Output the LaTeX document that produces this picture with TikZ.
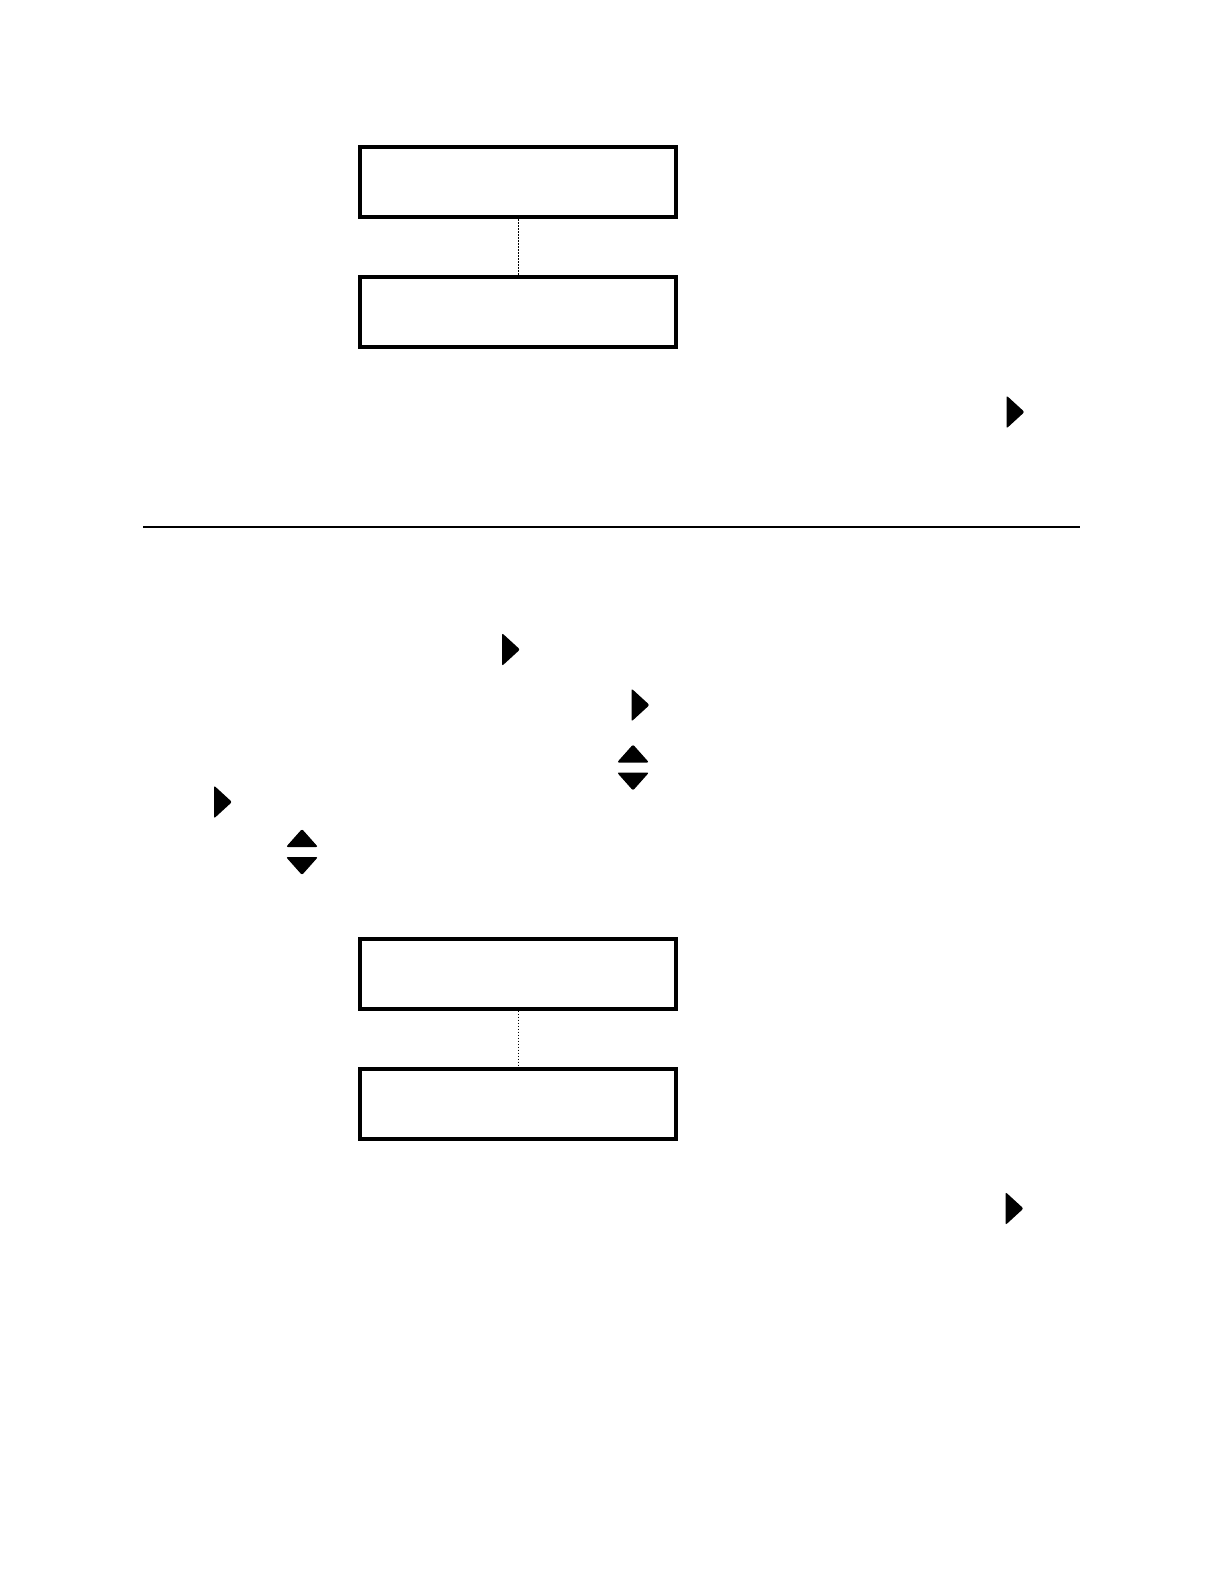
\documentclass[tikz,border=0pt]{standalone}
\usetikzlibrary{positioning}
\tikzset{
  panel/.style={rectangle,draw,line width=2pt,minimum width=158pt,minimum height=35pt,inner sep=0pt},
  link/.style={line width=0.5pt,dash pattern=on 0.75pt off 0.75pt},
  pics/rtri/.style={code={\fill[rounded corners=1pt] (-9,-16.5) -- (9,0) -- (-9,16.5) -- cycle;}},
  pics/updown/.style={code={
    \fill[rounded corners=1pt] (-16,-5) -- (0,-23) -- (16,-5) -- cycle;
    \fill[rounded corners=1pt] (-16,5) -- (0,23) -- (16,5) -- cycle;}}
}
\begin{document}
\begin{tikzpicture}[x=0.5pt,y=-0.5pt]
  \useasboundingbox (0,0) rectangle (1224,1584);
  \node[panel] (t1) at (518,182) {};
  \node[panel,below=28pt of t1] (t2) {};
  \draw[link] (t1) -- (t2) ;
  \pic at (1015.5,412) {rtri};

  \draw[line width=1pt] (143,527) -- (1080,527);

  \pic at (511,649.5) {rtri};
  \pic at (640.5,705) {rtri};
  \pic at (633,767.5) {updown};
  \pic at (223,802) {rtri};
  \pic at (302,852) {updown};

  \node[panel] (b1) at (518,973.5) {};
  \node[panel,below=28pt of b1] (b2) {};
  \draw[link] (b1) -- (b2) ;
  \pic at (1014.5,1208.5) {rtri};
\end{tikzpicture}
\end{document}
